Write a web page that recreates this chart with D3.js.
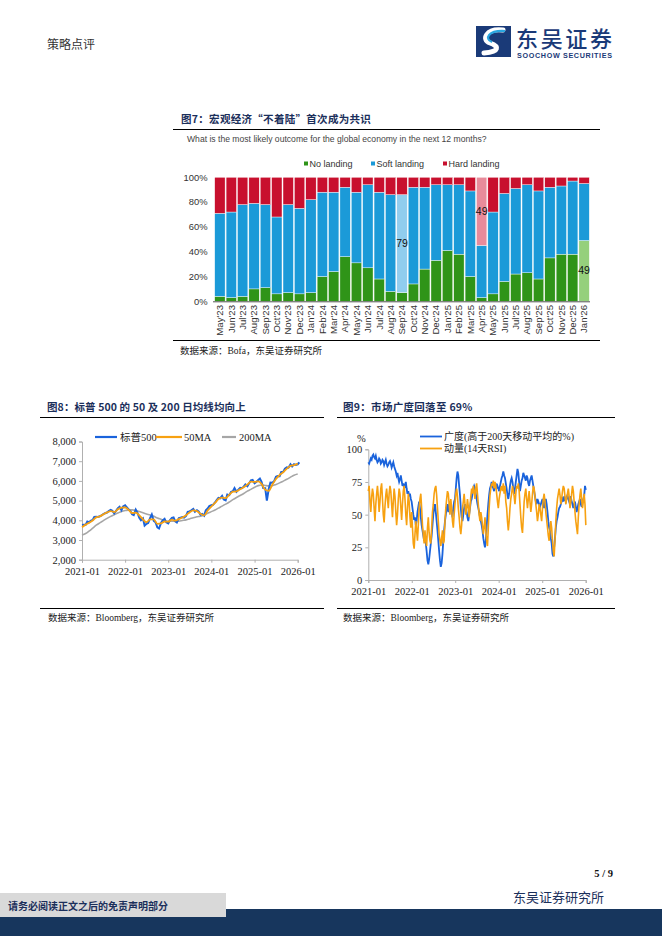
<!DOCTYPE html>
<html><head><meta charset="utf-8">
<script src="https://cdn.jsdelivr.net/npm/d3@7"></script>
<style>body{margin:0;background:#fff}svg{display:block}</style>
</head><body>
<svg id="page" width="662" height="936"></svg>
<script>
// ---------- Figure 7 data ----------
const months = ["May'23","Jun'23","Jul'23","Aug'23","Sep'23","Oct'23","Nov'23","Dec'23",
  "Jan'24","Feb'24","Mar'24","Apr'24","May'24","Jun'24","Jul'24","Aug'24","Sep'24","Oct'24","Nov'24","Dec'24",
  "Jan'25","Feb'25","Mar'25","Apr'25","May'25","Jun'25","Jul'25","Aug'25","Sep'25","Oct'25","Nov'25","Dec'25","Jan'26"];
const noLanding   = [4,3,4,10,11,6,7,6, 7,20,24,36,31,27,18,8,7,14,26,33, 41,38,20,3,6,16,22,23,18,35,38,38,49];
const softLanding = [67,69,74,69,67,62,71,69, 75,68,64,56,57,67,70,78,79,78,66,61, 53,56,69,42,66,71,69,71,71,57,55,59,46];
const hardLanding = [29,28,22,21,22,32,22,25, 18,12,12,8,12,6,12,14,14,8,8,6, 6,6,11,55,28,13,9,6,11,8,7,3,5];
const fig7Highlights = [
  {month:"Sep'24", key:"soft", label:"79"},
  {month:"Apr'25", key:"hard", label:"49"},
  {month:"Jan'26", key:"no",   label:"49"}
];
const fig7Ticks = [0,20,40,60,80,100];

// ---------- Figure 8 data (S&P 500, semi-monthly: 1st & 15th) ----------
const spx = [
 3756,3768,3774,3934,3901,3968,4020,4170,4181,4173,4202,4246,4320,4360,4395,4468,4524,4480,4357,4471,4613,4682,4513,4709,
 4766,4662,4546,4471,4306,4262,4545,4392,4131,4008,4101,3735,3825,3863,4118,4297,3966,3901,3640,3583,3871,3992,4076,3895,
 3840,3999,4119,4147,3951,3892,4109,4137,4168,4136,4221,4425,4450,4505,4576,4437,4515,4450,4288,4327,4237,4502,4595,4719,
 4770,4784,4906,5029,5137,5117,5243,5061,5018,5308,5277,5431,5475,5631,5446,5543,5648,5626,5708,5815,5728,5870,6032,6051,
 5882,5949,6040,6115,5955,5639,5633,5000,5604,5917,5912,5977,6205,6243,6238,6450,6460,6615,6688,6671,6840,6734,6849,6816,
 6845,6944];
// monthly moving averages (1st of each month, 2021-01 .. 2026-01)
const ma50 = [
 3650,3780,3870,3990,4150,4200,4300,4400,4470,4420,4560,4640,
 4650,4520,4370,4390,4250,4050,3900,4050,4050,3820,3840,3940,
 3930,4030,3980,4060,4140,4260,4400,4500,4470,4330,4250,4500,
 4700,4880,5080,5150,5130,5300,5450,5470,5580,5680,5820,5960,
 5950,5980,5850,5550,5500,5820,6100,6300,6440,6620,6760,6800,
 6880];
const ma200 = [
 3250,3330,3450,3600,3750,3870,3980,4100,4200,4280,4370,4450,
 4500,4520,4530,4500,4450,4380,4320,4270,4200,4120,4050,3980,
 3950,3950,3950,3960,3990,4020,4070,4130,4180,4210,4270,4360,
 4440,4520,4620,4720,4820,4930,5050,5160,5260,5360,5480,5570,
 5680,5760,5790,5770,5750,5760,5820,5900,5990,6080,6190,6290,
 6350];
const fig8YTicks = [2000,3000,4000,5000,6000,7000,8000];
const yearTicks = ["2021-01","2022-01","2023-01","2024-01","2025-01","2026-01"];

// ---------- Figure 9 data (weekly, from first week of 2021) ----------
const breadth = [
 90,89,91,93,92,95,96,94,93,95,92,90,91,93,92,89,90,92,91,88,90,92,89,87,88,90,91,89,86,88,90,87,85,83,80,82,78,75,77,80,76,72,74,70,72,75,70,66,68,64,66,62,
 60,55,50,46,48,42,45,52,56,60,55,48,42,38,34,30,35,28,22,15,12,16,22,28,34,42,50,55,58,52,45,38,30,22,15,10,13,20,30,38,45,50,55,58,52,56,60,55,52,48,55,60,
 62,70,78,83,80,72,65,55,48,45,50,55,58,55,52,48,45,50,55,60,62,66,70,72,70,66,62,58,55,52,48,45,42,38,32,28,25,30,40,50,58,65,70,72,75,72,70,68,72,74,70,72,
 70,68,72,75,78,80,83,80,78,74,70,65,62,66,72,76,78,75,70,66,70,75,80,85,82,75,68,72,76,78,82,80,78,76,80,78,74,72,76,78,80,76,72,68,64,60,58,62,60,58,56,58,
 60,62,58,55,60,62,58,52,45,40,38,32,28,20,18,25,32,40,45,48,52,55,56,58,60,62,60,64,62,60,63,65,62,60,62,64,60,58,55,58,60,56,52,55,58,60,62,58,56,60,62,64,
 72,69];
const rsi = [
 68,72,60,52,63,70,66,55,45,58,66,72,64,52,60,70,74,62,50,44,56,65,70,62,55,66,72,68,58,48,60,70,64,52,42,50,62,70,66,56,46,58,68,72,62,50,42,55,66,60,48,40,
 52,40,28,24,35,45,38,30,42,55,62,66,55,42,35,28,38,30,26,40,48,36,30,28,40,52,58,66,70,72,65,55,45,35,30,26,32,38,28,30,45,55,62,68,66,58,50,62,55,45,40,50,
 58,66,70,64,55,48,40,35,42,55,60,66,58,50,55,62,56,48,55,64,70,66,72,68,62,70,74,66,58,50,45,52,48,42,35,40,48,38,30,26,40,55,65,70,74,72,76,70,75,72,66,60,
 55,62,66,70,72,68,74,66,72,60,55,45,38,45,55,62,66,72,68,64,58,66,72,70,74,68,58,48,40,36,48,60,66,70,62,55,62,68,60,52,58,66,72,70,64,58,52,45,50,58,55,50,
 45,55,62,66,60,52,46,40,34,30,38,45,40,30,22,18,30,45,55,62,66,70,65,58,62,68,72,70,64,58,62,66,70,64,55,60,66,72,68,60,52,45,40,35,48,58,65,70,62,55,60,66,
 58,42];
const fig9YTicks = [0,25,50,75,100];

// ---------- helpers ----------
const semiDate = i => new Date(2021 + Math.floor(i/24), Math.floor((i%24)/2), (i%2) ? 15 : 1);
const monthDate = i => new Date(2021, i, 1);
const weekDate = i => new Date(2021, 0, 1 + 7*i);
const parseYM = d3.timeParse("%Y-%m");

const svg = d3.select("#page");
const NAVY = "#1b2f5b";
const CJK = "'Noto Sans CJK SC', sans-serif";
const SERIF = "'Liberation Serif','Times New Roman','Noto Sans CJK SC',serif";
const NARROW = "'Liberation Sans Narrow','Arial Narrow','Liberation Sans',sans-serif";

// ---------- Header ----------
svg.append("text").attr("x",47).attr("y",49).attr("font-family",CJK).attr("font-size",12)
  .attr("fill","#333").text("策略点评");
const logo = svg.append("g");
logo.append("rect").attr("x",476).attr("y",26).attr("width",35).attr("height",31).attr("fill","#1a3a78");
logo.append("path").attr("d","M503,30 C486,28 481,40 490,43 C499,46 500,52 484,53")
  .attr("fill","none").attr("stroke","#fff").attr("stroke-width",5).attr("stroke-linecap","round");
logo.append("path").attr("d","M505,31 C488,30 484,39 492,42")
  .attr("fill","none").attr("stroke","#2aa6e0").attr("stroke-width",2.2);
logo.append("text").attr("x",516).attr("y",46.5).attr("font-family",CJK).attr("font-size",22)
  .attr("font-weight",500).attr("fill","#1a3a78").attr("textLength",96).text("东吴证券");
logo.append("text").attr("x",517).attr("y",58).attr("font-family","'Liberation Sans Narrow','Liberation Sans',sans-serif")
  .attr("font-size",7.2).attr("font-weight","bold").attr("fill","#1a3a78").attr("textLength",95).text("SOOCHOW SECURITIES");

// ---------- Figure 7 ----------
svg.append("text").attr("x",181).attr("y",123).attr("font-family",CJK).attr("font-size",10.5)
  .attr("font-weight","bold").attr("fill",NAVY).attr("letter-spacing",0.3).text("图7：宏观经济“不着陆”首次成为共识");
svg.append("line").attr("x1",173).attr("x2",600).attr("y1",129.5).attr("y2",129.5).attr("stroke","#000").attr("stroke-width",1);
svg.append("line").attr("x1",173).attr("x2",600).attr("y1",340.5).attr("y2",340.5).attr("stroke","#000").attr("stroke-width",1);
svg.append("text").attr("x",187).attr("y",141.5).attr("font-family","'Liberation Sans','Open Sans',sans-serif")
  .attr("font-size",8.6).attr("fill","#444").text("What is the most likely outcome for the global economy in the next 12 months?");

const series = [
  {key:"no", name:"No landing", color:"#2f9418", light:"#95d07c", values:noLanding},
  {key:"soft", name:"Soft landing", color:"#1b9ad8", light:"#90cdee", values:softLanding},
  {key:"hard", name:"Hard landing", color:"#c8102e", light:"#e88b9b", values:hardLanding}
];
const legendX = [304, 371, 443];
series.forEach((s,i)=>{
  const g = svg.append("g").attr("transform",`translate(${legendX[i]},164)`);
  g.append("rect").attr("x",0).attr("y",-2.5).attr("width",4).attr("height",4).attr("fill",s.color);
  g.append("text").attr("x",5.5).attr("y",2.8).attr("font-family",NARROW).attr("font-size",9)
    .attr("fill","#333").text(s.name);
});

const x7 = d3.scaleBand().domain(months).range([214.5,589.5]).paddingInner(0.09).paddingOuter(0.02);
const y7 = d3.scaleLinear().domain([0,100]).range([301.3,177.3]);
const rows = months.map((m,i)=>({month:m, no:noLanding[i], soft:softLanding[i], hard:hardLanding[i]}));
const stack = d3.stack().keys(["no","soft","hard"])(rows);
const hl = new Map(fig7Highlights.map(h=>[h.month+"|"+h.key, h]));
stack.forEach((layer,li)=>{
  const s = series[li];
  svg.append("g").selectAll("rect").data(layer).join("rect")
    .attr("x",d=>x7(d.data.month)).attr("width",x7.bandwidth())
    .attr("y",d=>y7(d[1])).attr("height",d=>Math.max(0,y7(d[0])-y7(d[1])))
    .attr("fill",d=>hl.has(d.data.month+"|"+s.key) ? s.light : s.color)
    .attr("stroke","#fff").attr("stroke-width",0.4);
});
fig7Highlights.forEach(h=>{
  const li = series.findIndex(s=>s.key===h.key);
  const d = stack[li].find(d=>d.data.month===h.month);
  svg.append("text").attr("x",x7(h.month)+x7.bandwidth()/2).attr("y",y7((d[0]+d[1])/2)+3.5)
    .attr("text-anchor","middle").attr("font-family",NARROW).attr("font-size",10.5).attr("fill","#111").text(h.label);
});
svg.append("line").attr("x1",213).attr("x2",590).attr("y1",301.8).attr("y2",301.8).attr("stroke","#555").attr("stroke-width",1);
svg.append("g").selectAll("text").data(fig7Ticks).join("text")
  .attr("x",207.5).attr("y",d=>y7(d)+3.2).attr("text-anchor","end")
  .attr("font-family",NARROW).attr("font-size",9.4).attr("fill","#333").text(d=>d+"%");
svg.append("g").selectAll("text").data(months).join("text")
  .attr("transform",d=>`translate(${x7(d)+x7.bandwidth()/2+3.3},305) rotate(-90)`)
  .attr("text-anchor","end").attr("font-family",NARROW).attr("font-size",9.6).attr("fill","#333").text(d=>d);

svg.append("text").attr("x",180).attr("y",353.5).attr("font-family",SERIF).attr("font-size",9.5)
  .attr("fill","#222").text("数据来源：Bofa，东吴证券研究所");

// ---------- Figure 8 ----------
svg.append("text").attr("x",47).attr("y",411).attr("font-family",CJK).attr("font-size",10.5)
  .attr("font-weight","bold").attr("fill",NAVY).attr("letter-spacing",0.1).text("图8：标普 500 的 50 及 200 日均线均向上");
svg.append("line").attr("x1",40).attr("x2",324).attr("y1",417.5).attr("y2",417.5).attr("stroke","#000");
svg.append("line").attr("x1",40).attr("x2",324).attr("y1",608.5).attr("y2",608.5).attr("stroke","#000");
svg.append("text").attr("x",48).attr("y",621).attr("font-family",SERIF).attr("font-size",9.5)
  .attr("fill","#222").text("数据来源：Bloomberg，东吴证券研究所");

const x8 = d3.scaleTime().domain([parseYM("2021-01"),parseYM("2026-01")]).range([82,297.7]);
const y8 = d3.scaleLinear().domain([2000,8000]).range([559.7,441.5]);
const ax8y = svg.append("g").attr("transform","translate(82,0)")
  .call(d3.axisLeft(y8).tickValues(fig8YTicks).tickFormat(d3.format(",")).tickSize(3).tickPadding(3));
const ax8x = svg.append("g").attr("transform","translate(0,559.7)")
  .call(d3.axisBottom(x8).tickValues(yearTicks.map(parseYM)).tickFormat(d3.timeFormat("%Y-%m")).tickSize(3).tickPadding(5));
[ax8y,ax8x].forEach(a=>{
  a.selectAll("path,line").attr("stroke","#b0b0b0");
  a.selectAll("text").attr("font-family",SERIF).attr("font-size",10.5).attr("fill","#222");
});
const line8 = (arr,dateFn,curve)=>d3.line().curve(curve||d3.curveLinear).x((d,i)=>x8(dateFn(i))).y(d=>y8(d))(arr);
svg.append("path").attr("d",line8(ma200,monthDate,d3.curveMonotoneX)).attr("fill","none").attr("stroke","#a6a6a6").attr("stroke-width",1.6);
svg.append("path").attr("d",line8(spx,semiDate)).attr("fill","none").attr("stroke","#1a63dc").attr("stroke-width",2);
svg.append("path").attr("d",line8(ma50,monthDate,d3.curveMonotoneX)).attr("fill","none").attr("stroke","#f7a111").attr("stroke-width",1.8);
const leg8 = [{n:"标普500",c:"#1a63dc",x1:95,x2:117,tx:120},{n:"50MA",c:"#f7a111",x1:156,x2:182,tx:184},{n:"200MA",c:"#a6a6a6",x1:222,x2:236,tx:239}];
leg8.forEach(l=>{
  svg.append("line").attr("x1",l.x1).attr("x2",l.x2).attr("y1",437).attr("y2",437).attr("stroke",l.c).attr("stroke-width",2.2);
  svg.append("text").attr("x",l.tx).attr("y",440.5).attr("font-family",SERIF).attr("font-size",10.5).attr("fill","#222").text(l.n);
});

// ---------- Figure 9 ----------
svg.append("text").attr("x",343).attr("y",411).attr("font-family",CJK).attr("font-size",10.5)
  .attr("font-weight","bold").attr("fill",NAVY).attr("letter-spacing",0.3).text("图9：市场广度回落至 69%");
svg.append("line").attr("x1",337).attr("x2",615).attr("y1",417.5).attr("y2",417.5).attr("stroke","#000");
svg.append("line").attr("x1",337).attr("x2",615).attr("y1",608.5).attr("y2",608.5).attr("stroke","#000");
svg.append("text").attr("x",343).attr("y",621).attr("font-family",SERIF).attr("font-size",9.5)
  .attr("fill","#222").text("数据来源：Bloomberg，东吴证券研究所");

const x9 = d3.scaleTime().domain([parseYM("2021-01"),parseYM("2026-01")]).range([368.3,585.7]);
const y9 = d3.scaleLinear().domain([0,100]).range([580,449.3]);
const ax9y = svg.append("g").attr("transform","translate(368.3,0)")
  .call(d3.axisLeft(y9).tickValues(fig9YTicks).tickSize(3).tickPadding(3));
const ax9x = svg.append("g").attr("transform","translate(0,580)")
  .call(d3.axisBottom(x9).tickValues(yearTicks.map(parseYM)).tickFormat(d3.timeFormat("%Y-%m")).tickSize(3).tickPadding(5));
[ax9y,ax9x].forEach(a=>{
  a.selectAll("path,line").attr("stroke","#b0b0b0");
  a.selectAll("text").attr("font-family",SERIF).attr("font-size",10.5).attr("fill","#222");
});
svg.append("text").attr("x",357).attr("y",442).attr("font-family",SERIF).attr("font-size",10.5).attr("fill","#222").text("%");
const line9 = arr=>d3.line().x((d,i)=>x9(weekDate(i))).y(d=>y9(d))(arr);
svg.append("path").attr("d",line9(breadth)).attr("fill","none").attr("stroke","#1a63dc").attr("stroke-width",1.8);
svg.append("path").attr("d",line9(rsi)).attr("fill","none").attr("stroke","#f7a111").attr("stroke-width",1.6);
const leg9 = [{n:"广度(高于200天移动平均的%)",c:"#1a63dc",y:436.5},{n:"动量(14天RSI)",c:"#f7a111",y:448.5}];
leg9.forEach(l=>{
  svg.append("line").attr("x1",420).attr("x2",442).attr("y1",l.y).attr("y2",l.y).attr("stroke",l.c).attr("stroke-width",1.8);
  svg.append("text").attr("x",444).attr("y",l.y+3.5).attr("font-family",SERIF).attr("font-size",10).attr("fill","#222").text(l.n);
});

// ---------- Footer ----------
svg.append("text").attr("x",613).attr("y",877).attr("text-anchor","end").attr("font-family",SERIF)
  .attr("font-size",10.5).attr("font-weight","bold").attr("fill","#111").text("5 / 9");
svg.append("text").attr("x",513).attr("y",901.5).attr("font-family",CJK).attr("font-size",13)
  .attr("fill","#1b2f5b").text("东吴证券研究所");
svg.append("rect").attr("x",0).attr("y",909).attr("width",662).attr("height",27).attr("fill","#17365d");
svg.append("rect").attr("x",0).attr("y",893).attr("width",226).attr("height",24).attr("fill","#d9d9d9");
svg.append("text").attr("x",8).attr("y",909.5).attr("font-family",CJK).attr("font-size",10)
  .attr("font-weight","bold").attr("fill","#1b2f5b").text("请务必阅读正文之后的免责声明部分");
</script>
</body></html>
